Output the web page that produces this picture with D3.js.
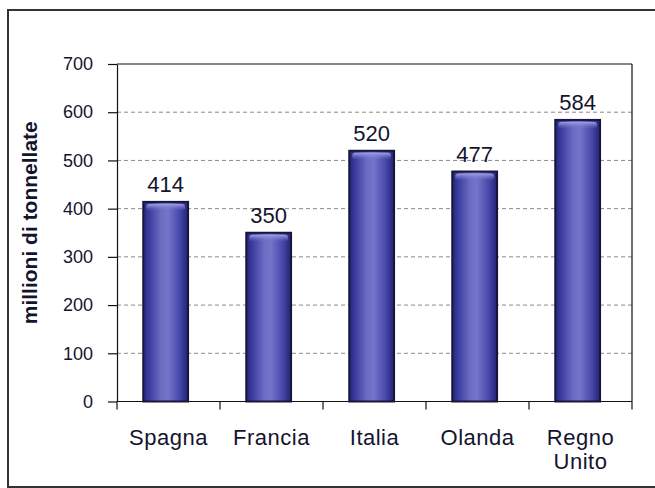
<!DOCTYPE html>
<html>
<head>
<meta charset="utf-8">
<script src="https://cdn.jsdelivr.net/npm/d3@7"></script>
<style>
  html, body { margin: 0; padding: 0; background: #fff; }
  svg { display: block; }
  text { font-family: Arial, "Liberation Sans", sans-serif; fill: #14142e; }
</style>
</head>
<body>
<svg id="chart" width="655" height="488"></svg>
<script>
// Port freight volumes by country
const countries = ["Spagna", "Francia", "Italia", "Olanda", "Regno Unito"];
const tonnes = [414, 350, 520, 477, 584];
const yTicks = [0, 100, 200, 300, 400, 500, 600, 700];
const yTitle = "millioni di tonnellate";

const svg = d3.select("#chart");
const margin = { left: 117, right: 23, top: 64, bottom: 86.5 };
const W = 655, H = 488;
const innerW = W - margin.left - margin.right;
const innerH = H - margin.top - margin.bottom;

// Outer frame
svg.append("rect")
  .attr("x", 8).attr("y", 10)
  .attr("width", 660).attr("height", 477)
  .attr("fill", "#fff")
  .attr("stroke", "#333").attr("stroke-width", 2);

const defs = svg.append("defs");
const body = defs.append("linearGradient").attr("id", "barBody")
  .attr("x1", "0%").attr("x2", "100%").attr("y1", "0%").attr("y2", "0%");
[[0, "#26267c"], [0.12, "#3a3a9c"], [0.4, "#6c6cc4"], [0.55, "#7474ca"], [0.8, "#4a4aac"], [1, "#222276"]]
  .forEach(([o, c]) => body.append("stop").attr("offset", o).attr("stop-color", c));
const cap = defs.append("linearGradient").attr("id", "barCap")
  .attr("x1", "0%").attr("x2", "0%").attr("y1", "0%").attr("y2", "100%");
[[0, "#a0a0e4", 1], [1, "#7070c4", 0]]
  .forEach(([o, c, a]) => cap.append("stop").attr("offset", o).attr("stop-color", c).attr("stop-opacity", a));

const g = svg.append("g").attr("transform", `translate(${margin.left},${margin.top})`);

const x = d3.scaleBand().domain(countries).range([0, innerW]).padding(0);
const y = d3.scaleLinear().domain([0, 700]).range([innerH, 0]);

// Dashed gridlines
g.append("g").selectAll("line")
  .data(yTicks.filter(t => t > 0 && t < 700))
  .join("line")
  .attr("x1", 0).attr("x2", innerW)
  .attr("y1", d => y(d)).attr("y2", d => y(d))
  .attr("stroke", "#8a8a8a").attr("stroke-width", 1)
  .attr("stroke-dasharray", "4,3");

// Plot frame: top and right edges
g.append("line").attr("x1", 0).attr("x2", innerW).attr("y1", y(700)).attr("y2", y(700))
  .attr("stroke", "#111").attr("stroke-width", 1.2);
g.append("line").attr("x1", innerW).attr("x2", innerW).attr("y1", 0).attr("y2", innerH)
  .attr("stroke", "#111").attr("stroke-width", 1.2);

// Y axis
const yAxis = g.append("g").call(
  d3.axisLeft(y).tickValues(yTicks).tickSize(9).tickPadding(15).tickSizeOuter(0)
);
yAxis.select(".domain").attr("stroke", "#111").attr("stroke-width", 1.2);
yAxis.selectAll(".tick line").attr("stroke", "#111").attr("stroke-width", 1.2);
yAxis.selectAll(".tick text")
  .attr("font-size", 18).attr("fill", "#14142e")
  .attr("font-family", "Arial, 'Liberation Sans', sans-serif");

// X axis with ticks on category boundaries
const xAxisG = g.append("g").attr("transform", `translate(0,${innerH})`);
xAxisG.append("line").attr("x1", 0).attr("x2", innerW)
  .attr("stroke", "#111").attr("stroke-width", 1.2);
const bounds = countries.map(c => x(c)).concat([x.range()[1]]);
xAxisG.selectAll("line.tk").data(bounds).join("line").attr("class", "tk")
  .attr("x1", d => d).attr("x2", d => d).attr("y1", 0).attr("y2", 8)
  .attr("stroke", "#111").attr("stroke-width", 1.2);

// Category labels (multi-line where needed)
xAxisG.selectAll("text.cat").data(countries).join("text").attr("class", "cat")
  .attr("text-anchor", "middle")
  .attr("font-size", 22)
  .attr("letter-spacing", 0.5)
  .attr("transform", d => `translate(${x(d) + x.bandwidth() / 2},${43})`)
  .each(function (d) {
    const words = d.split(" ");
    d3.select(this).selectAll("tspan").data(words).join("tspan")
      .attr("x", 0).attr("dy", (w, i) => i === 0 ? 0 : "1.1em").text(w => w);
  });

// Bars
const barLeft = d => x(d) + x.bandwidth() * 0.255;
const barW = x.bandwidth() * 0.435;
const bars = g.append("g").selectAll("g").data(countries.map((c, i) => ({ c, v: tonnes[i] }))).join("g");
bars.append("rect")
  .attr("x", d => barLeft(d.c)).attr("y", d => y(d.v))
  .attr("width", barW).attr("height", d => innerH - y(d.v))
  .attr("fill", "url(#barBody)")
  .attr("stroke", "#16163a").attr("stroke-width", 2);
bars.append("rect")
  .attr("x", d => barLeft(d.c) + 3).attr("y", d => y(d.v) + 2)
  .attr("width", barW - 6).attr("height", 7)
  .attr("rx", 3).attr("ry", 3)
  .attr("fill", "url(#barCap)");

// Value labels
bars.append("text")
  .attr("x", d => barLeft(d.c) + barW / 2)
  .attr("y", d => y(d.v) - 10)
  .attr("text-anchor", "middle")
  .attr("font-size", 22)
  .text(d => d.v);

// Y axis title
svg.append("text")
  .attr("transform", `translate(37,${margin.top + innerH / 2 - 10}) rotate(-90)`)
  .attr("text-anchor", "middle")
  .attr("font-size", 21).attr("font-weight", "bold").attr("fill", "#000")
  .text(yTitle);
</script>
</body>
</html>
